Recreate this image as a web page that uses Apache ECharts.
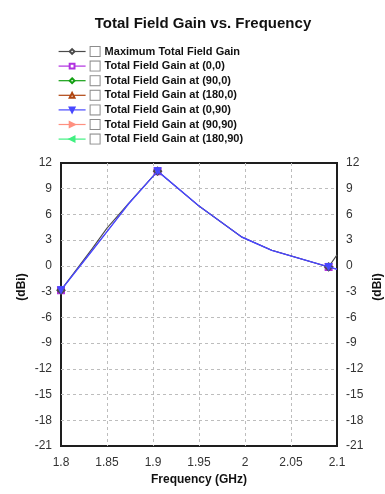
<!DOCTYPE html>
<html>
<head>
<meta charset="utf-8">
<script src="https://cdn.jsdelivr.net/npm/echarts@6/dist/echarts.min.js"></script>
<style>
  html, body { margin: 0; padding: 0; background: #fff; }
  #chart { width: 385px; height: 494px; }
</style>
</head>
<body>
<div id="chart"></div>
<script>
// Sweep frequencies (GHz)
var freq = [1.8, 1.8335, 1.85, 1.8735, 1.905, 1.95, 1.9964, 2.0291, 2.0909, 2.1];
// Maximum total field gain over all directions (dBi)
var maxGain = [-2.83, 1.95, 4.4, 7.3, 11.05, 6.98, 3.37, 1.82, -0.12, 1.28];
// Total field gain in the fixed (theta, phi) directions (dBi)
var gain00 = [-2.83, 1.74, 4.0, 7.25, 11.05, 6.98, 3.37, 1.82, -0.12, -0.39];
var gain900 = [];
var gain1800 = [];
var gain090 = [-2.83, 1.74, 4.0, 7.25, 11.05, 6.98, 3.37, 1.82, -0.12, -0.39];
var gain9090 = [];
var gain18090 = [];
// Sweep points that carry a marker
var marked = [true, false, false, false, true, false, false, false, true, false];

var yTicks = { min: -21, max: 12, step: 3 };
var xTicks = { min: 1.8, max: 2.1, step: 0.05 };

var seriesDefs = [
  { name: 'Maximum Total Field Gain', data: maxGain, color: '#4a4a4a', symbol: 'emptyDiamond', size: 7, rotate: 0, z: 2, width: 1.1 },
  { name: 'Total Field Gain at (0,0)', data: gain00, color: '#b030e0', symbol: 'emptyRect', size: 6, rotate: 0, z: 1, width: 0.8 },
  { name: 'Total Field Gain at (90,0)', data: gain900, color: '#14a014', symbol: 'emptyDiamond', size: 7, rotate: 0, z: 3, width: 1 },
  { name: 'Total Field Gain at (180,0)', data: gain1800, color: '#b04510', symbol: 'emptyTriangle', size: 7, rotate: 0, z: 3, width: 1 },
  { name: 'Total Field Gain at (90,90)', data: gain9090, color: '#ff9080', symbol: 'triangle', size: 7, rotate: -90, z: 3, width: 1 },
  { name: 'Total Field Gain at (180,90)', data: gain18090, color: '#40f080', symbol: 'triangle', size: 7, rotate: 90, z: 3, width: 1 },
  { name: 'Total Field Gain at (0,90)', data: gain090, color: '#4848ff', symbol: 'triangle', size: 7, rotate: 180, z: 5, width: 1.4 }
];
var legendOrder = [
  'Maximum Total Field Gain',
  'Total Field Gain at (0,0)',
  'Total Field Gain at (90,0)',
  'Total Field Gain at (180,0)',
  'Total Field Gain at (0,90)',
  'Total Field Gain at (90,90)',
  'Total Field Gain at (180,90)'
];

var series = seriesDefs.map(function (s) {
  return {
    name: s.name,
    type: 'line',
    xAxisIndex: 0,
    yAxisIndex: 0,
    z: s.z,
    symbol: s.symbol,
    symbolSize: s.size,
    symbolRotate: s.rotate,
    showAllSymbol: true,
    color: s.color,
    lineStyle: { color: s.color, width: s.width },
    itemStyle: { color: s.color, borderColor: s.color, borderWidth: 1 },
    emphasis: { disabled: true },
    animation: false,
    data: s.data.map(function (v, i) {
      var item = { value: [freq[i], v] };
      if (!marked[i]) item.symbol = 'none';
      return item;
    })
  };
});

var axisLabelStyle = { color: '#333', fontSize: 12, fontFamily: 'Liberation Sans, Arial, sans-serif' };
var dashed = { show: true, showMinLine: false, showMaxLine: false, lineStyle: { color: '#bdbdbd', type: [3, 3], width: 1 } };

var option = {
  backgroundColor: '#fff',
  animation: false,
  textStyle: { fontFamily: 'Liberation Sans, Arial, sans-serif' },
  title: {
    text: 'Total Field Gain vs. Frequency',
    left: 198,
    textAlign: 'center',
    top: 11,
    textStyle: { fontSize: 15, fontWeight: 'bold', color: '#111', fontFamily: 'Liberation Sans, Arial, sans-serif' }
  },
  legend: {
    orient: 'vertical',
    left: 53,
    top: 41,
    itemWidth: 27,
    itemHeight: 6,
    itemGap: 3.6,
    selectedMode: false,
    data: legendOrder,
    lineStyle: { width: 1.2 },
    formatter: function (name) { return '{cb|}{t|' + name + '}'; },
    textStyle: {
      color: '#111',
      fontSize: 11,
      fontFamily: 'Liberation Sans, Arial, sans-serif',
      rich: {
        cb: { width: 9, height: 9, borderColor: '#8c8c8c', borderWidth: 1, backgroundColor: '#fff' },
        t: { fontWeight: 'bold', fontSize: 11, color: '#111', padding: [0, 0, 0, 5] }
      }
    }
  },
  grid: {
    left: 61, right: 48, top: 163, bottom: 48,
    show: true, borderColor: '#1e1e1e', borderWidth: 2, backgroundColor: 'transparent'
  },
  xAxis: {
    type: 'value',
    min: xTicks.min, max: xTicks.max, interval: xTicks.step,
    name: 'Frequency (GHz)',
    nameLocation: 'middle',
    nameGap: 28,
    nameTextStyle: { fontWeight: 'bold', fontSize: 12, color: '#111' },
    axisLine: { show: false },
    axisTick: { show: false },
    axisLabel: Object.assign({ margin: 11 }, axisLabelStyle),
    splitLine: dashed
  },
  yAxis: [
    {
      type: 'value', position: 'left',
      min: yTicks.min, max: yTicks.max, interval: yTicks.step,
      axisLine: { show: false }, axisTick: { show: false },
      axisLabel: Object.assign({ margin: 9 }, axisLabelStyle),
      splitLine: dashed
    },
    {
      type: 'value', position: 'right',
      min: yTicks.min, max: yTicks.max, interval: yTicks.step,
      axisLine: { show: false }, axisTick: { show: false },
      axisLabel: Object.assign({ margin: 9 }, axisLabelStyle),
      splitLine: { show: false }
    }
  ],
  graphic: [
    {
      type: 'text', x: 22, y: 287, rotation: Math.PI / 2,
      style: { text: '(dBi)', fill: '#111', font: 'bold 12px Liberation Sans, Arial, sans-serif', align: 'center', verticalAlign: 'middle' }
    },
    {
      type: 'text', x: 378, y: 287, rotation: Math.PI / 2,
      style: { text: '(dBi)', fill: '#111', font: 'bold 12px Liberation Sans, Arial, sans-serif', align: 'center', verticalAlign: 'middle' }
    }
  ],
  series: series
};

var chart = echarts.init(document.getElementById('chart'), null, { renderer: 'canvas' });
chart.setOption(option);
</script>
</body>
</html>
